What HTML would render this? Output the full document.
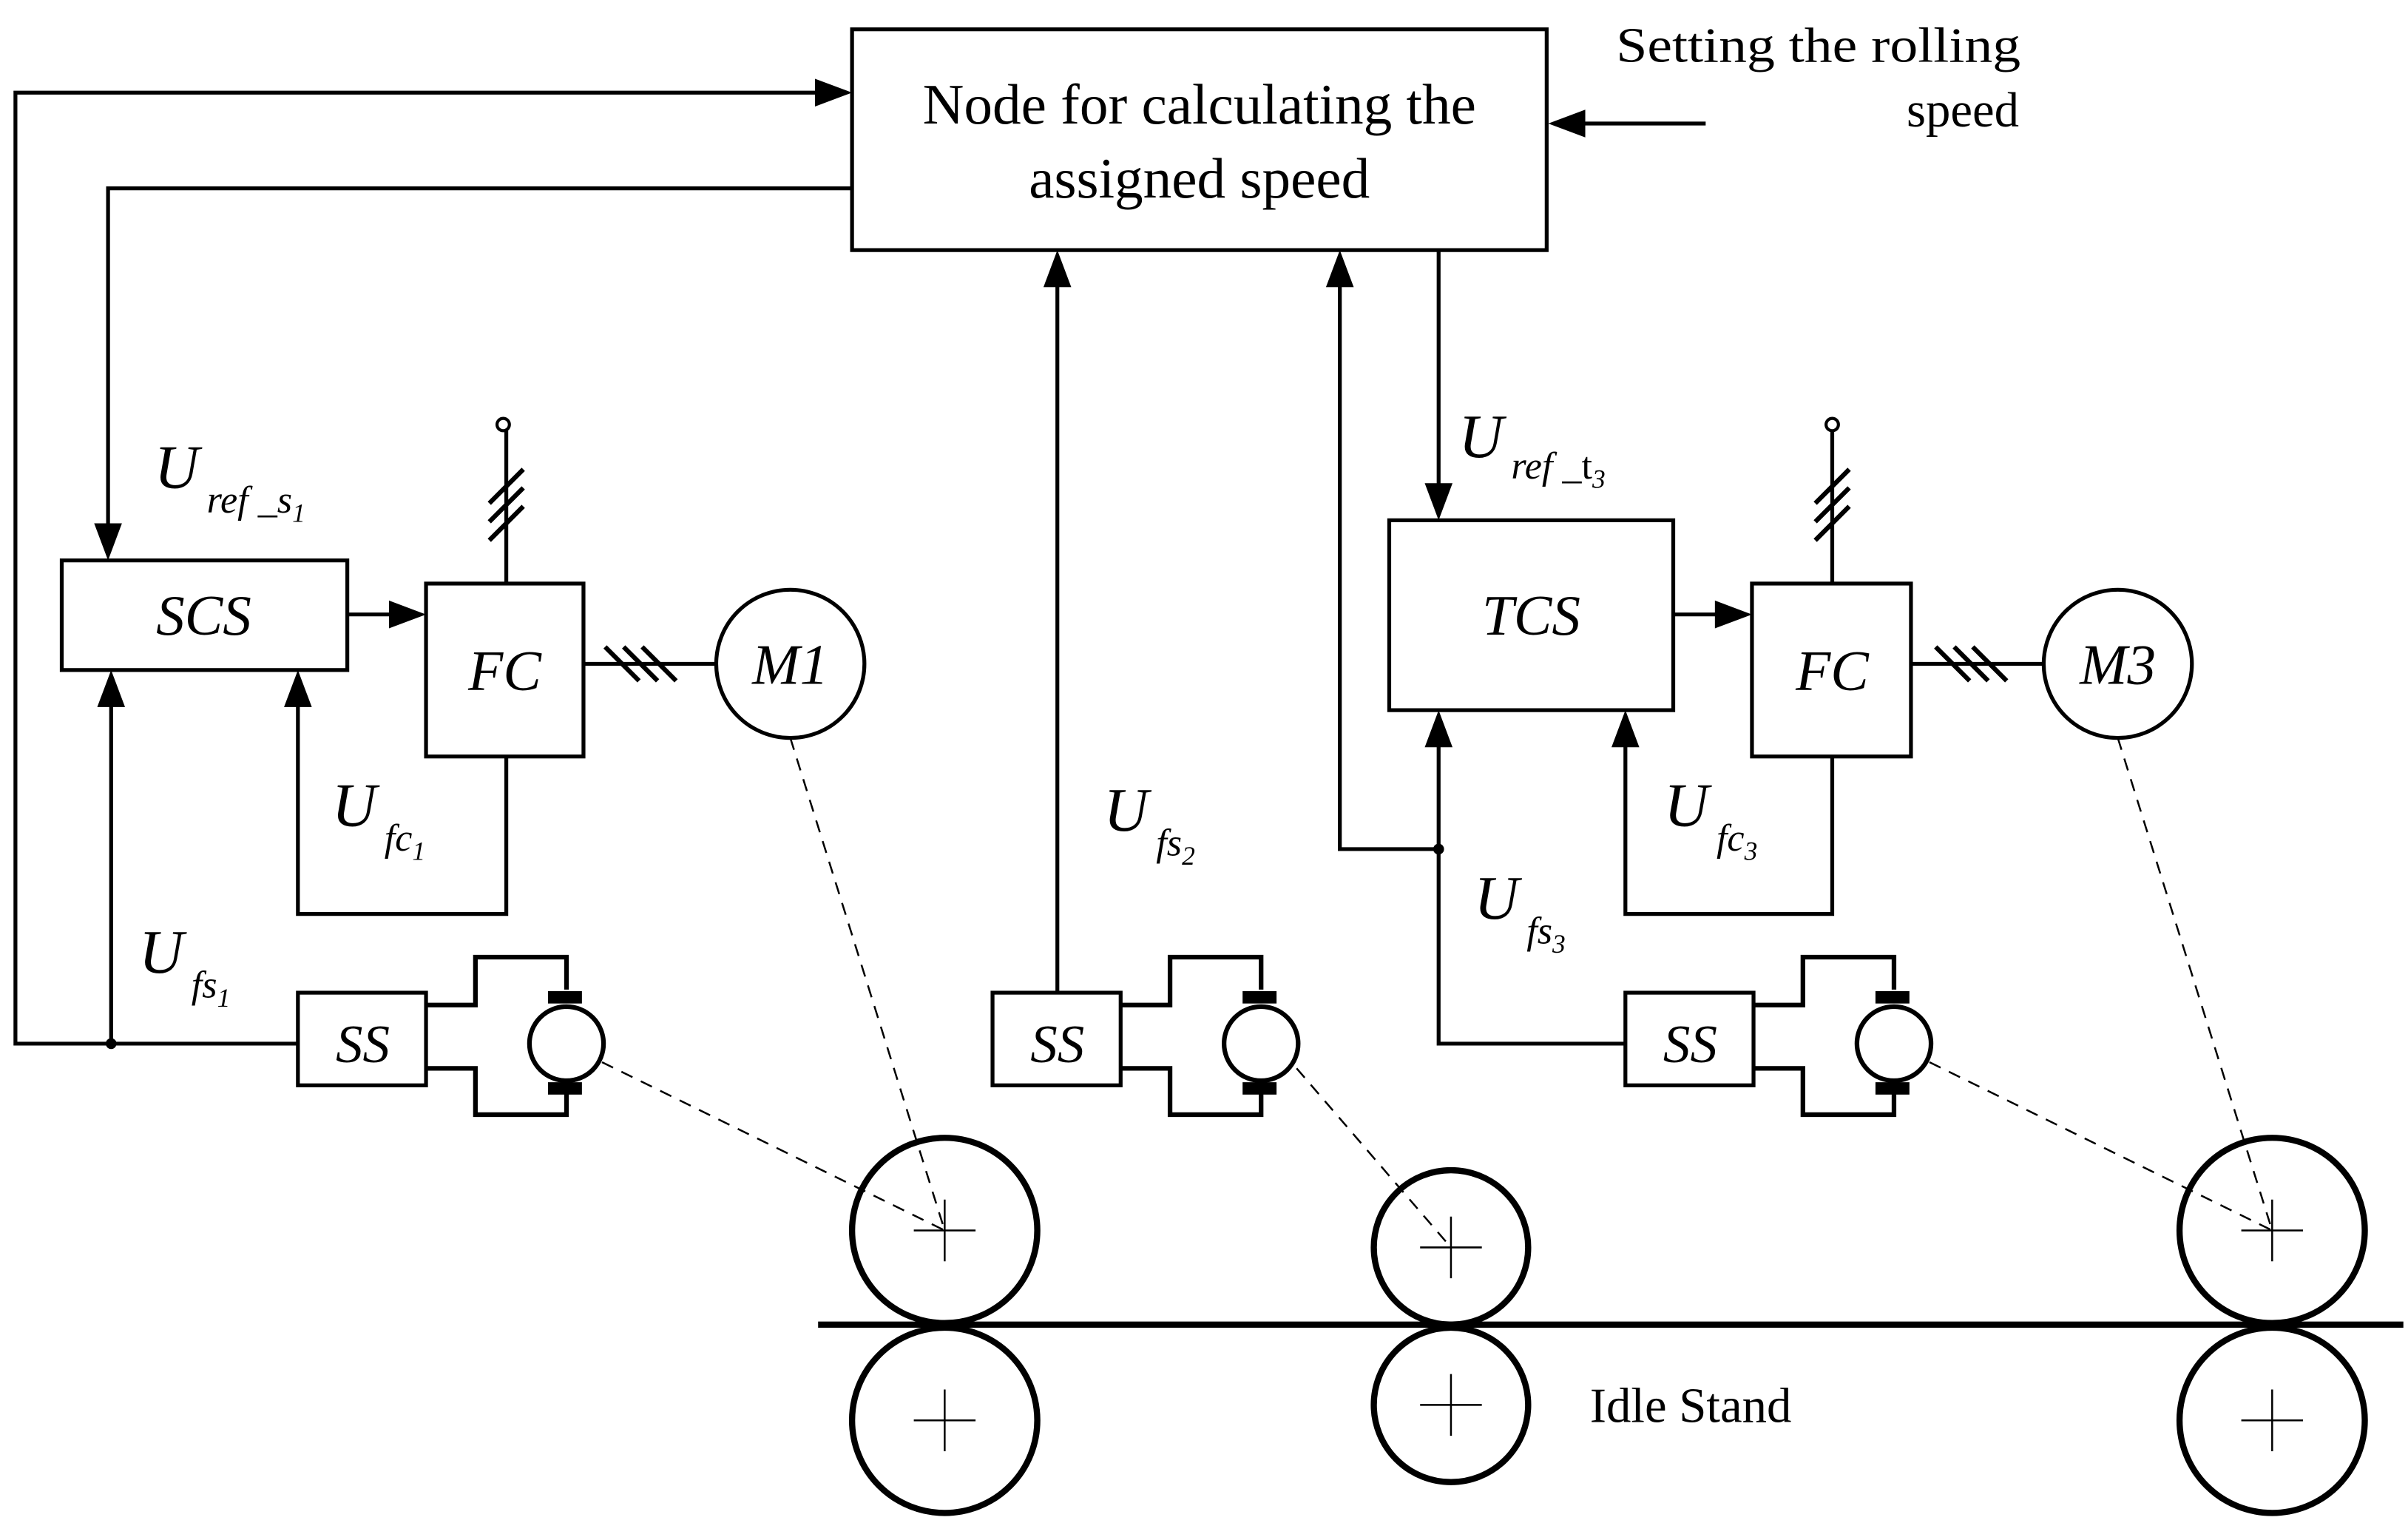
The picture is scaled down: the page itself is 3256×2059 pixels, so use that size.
<!DOCTYPE html>
<html><head><meta charset="utf-8"><style>
html,body{margin:0;padding:0;background:#fff;}
svg{display:block;}
text{font-family:"Liberation Serif",serif;fill:#000;}
.i{font-style:italic;}
</style></head><body>
<svg width="3256" height="2059" viewBox="0 0 1560 986.5" preserveAspectRatio="none" xmlns="http://www.w3.org/2000/svg">
<defs>
<g id="mot">
<path d="M0,-25 H32 V-56 H91 V-35 M0,16 H32 V46 H91 V26" fill="none" stroke="#000" stroke-width="3"/>
<rect x="79" y="-34" width="22" height="8" fill="#000"/>
<rect x="79" y="25" width="22" height="8" fill="#000"/>
<circle cx="91" cy="0" r="24" fill="#fff" stroke="#000" stroke-width="3"/>
</g>
<g id="hash"><path d="M-11,4 L11,-18 M-11,16 L11,-6 M-11,28 L11,6" stroke="#000" stroke-width="3"/></g>
</defs>
<g fill="none" stroke="#000" stroke-width="2.5">
<rect x="552" y="19" width="450" height="143"/>
<polyline points="193,676 10,676 10,60 540,60"/>
<polyline points="552,122 70,122 70,350"/>
<polyline points="72,676 72,446"/>
<rect x="40" y="363" width="185" height="71"/>
<line x1="225" y1="398" x2="264" y2="398"/>
<rect x="276" y="378" width="102" height="112"/>
<polyline points="328,378 328,279"/>
<line x1="378" y1="430" x2="464" y2="430"/>
<circle cx="512" cy="430" r="48"/>
<polyline points="328,490 328,592 193,592 193,446"/>
<rect x="193" y="643" width="83" height="60"/>
<polyline points="685,643 685,174"/>
<rect x="643" y="643" width="83" height="60"/>
<polyline points="932,162 932,323"/>
<rect x="900" y="337" width="184" height="123"/>
<line x1="1084" y1="398" x2="1123" y2="398"/>
<rect x="1135" y="378" width="103" height="112"/>
<polyline points="1187,378 1187,279"/>
<line x1="1238" y1="430" x2="1324" y2="430"/>
<circle cx="1372" cy="430" r="48"/>
<polyline points="1187,490 1187,592 1053,592 1053,472"/>
<polyline points="868,174 868,550 932,550"/>
<polyline points="1053,676 932,676 932,472"/>
<rect x="1053" y="643" width="83" height="60"/>
<line x1="1105" y1="80" x2="1015" y2="80"/>
</g>
<g fill="#000">
<polygon points="552,60 528,51 528,69"/>
<polygon points="1003,80 1027,71 1027,89"/>
<polygon points="70,363 61,339 79,339"/>
<polygon points="72,434 63,458 81,458"/>
<polygon points="276,398 252,389 252,407"/>
<polygon points="193,434 184,458 202,458"/>
<polygon points="685,162 676,186 694,186"/>
<polygon points="868,162 859,186 877,186"/>
<polygon points="932,337 923,313 941,313"/>
<polygon points="1135,398 1111,389 1111,407"/>
<polygon points="932,460 923,484 941,484"/>
<polygon points="1053,460 1044,484 1062,484"/>
<circle cx="72" cy="676" r="3.5"/>
<circle cx="932" cy="550" r="3.5"/>
</g>
<circle cx="326" cy="275" r="4" fill="#fff" stroke="#000" stroke-width="2"/>
<circle cx="1187" cy="275" r="4" fill="#fff" stroke="#000" stroke-width="2"/>
<use href="#hash" x="328" y="322"/>
<use href="#hash" x="1187" y="322"/>
<g transform="translate(420,430) rotate(90)"><use href="#hash"/></g>
<g transform="translate(1282,430) rotate(90)"><use href="#hash"/></g>
<use href="#mot" x="276" y="676"/>
<use href="#mot" x="726" y="676"/>
<use href="#mot" x="1136" y="676"/>
<g stroke="#000" stroke-width="1.2" stroke-dasharray="8,6" fill="none">
<line x1="390" y1="688" x2="612" y2="797"/>
<line x1="512" y1="478" x2="612" y2="797"/>
<line x1="840" y1="692" x2="940" y2="808"/>
<line x1="1250" y1="688" x2="1472" y2="797"/>
<line x1="1372" y1="478" x2="1472" y2="797"/>
</g>
<g fill="none" stroke="#000" stroke-width="4">
<circle cx="612" cy="797" r="60"/><circle cx="612" cy="920" r="60"/>
<circle cx="940" cy="808" r="50"/><circle cx="940" cy="910" r="50"/>
<circle cx="1472" cy="797" r="60"/><circle cx="1472" cy="920" r="60"/>
<line x1="530" y1="858" x2="1557" y2="858"/>
</g>
<g stroke="#000" stroke-width="1.2">
<path d="M592,797h40M612,777v40M592,920h40M612,900v40M920,808h40M940,788v40M920,910h40M940,890v40M1452,797h40M1472,777v40M1452,920h40M1472,900v40"/>
</g>
<text x="777" y="80" font-size="37" text-anchor="middle">Node for calculating the</text>
<text x="777" y="128" font-size="37" text-anchor="middle">assigned speed</text>
<text x="1047" y="40" font-size="32" textLength="262" lengthAdjust="spacingAndGlyphs">Setting the rolling</text>
<text x="1308" y="82" font-size="32" text-anchor="end">speed</text>
<text x="1030" y="921" font-size="32">Idle Stand</text>
<g class="i">
<text x="132" y="411" font-size="37" text-anchor="middle">SCS</text>
<text x="327" y="447" font-size="37" text-anchor="middle">FC</text>
<text x="512" y="443" font-size="37" text-anchor="middle">M1</text>
<text x="992" y="411" font-size="37" text-anchor="middle">TCS</text>
<text x="1187" y="447" font-size="37" text-anchor="middle">FC</text>
<text x="1372" y="443" font-size="37" text-anchor="middle">M3</text>
<text x="235" y="688" font-size="35" text-anchor="middle">SS</text>
<text x="685" y="688" font-size="35" text-anchor="middle">SS</text>
<text x="1095" y="688" font-size="35" text-anchor="middle">SS</text>
<text x="100" y="316" font-size="40">U</text><text x="134" y="332" font-size="25">ref _s<tspan font-size="17" dy="6">1</tspan></text>
<text x="945" y="296" font-size="40">U</text><text x="979" y="310" font-size="25">ref _<tspan font-style="normal">t</tspan><tspan font-size="17" dy="6">3</tspan></text>
<text x="215" y="535" font-size="40">U</text><text x="249" y="551" font-size="25">fc<tspan font-size="17" dy="6">1</tspan></text>
<text x="90" y="630" font-size="40">U</text><text x="124" y="646" font-size="25">fs<tspan font-size="17" dy="6">1</tspan></text>
<text x="715" y="538" font-size="40">U</text><text x="749" y="554" font-size="25">fs<tspan font-size="17" dy="6">2</tspan></text>
<text x="1078" y="535" font-size="40">U</text><text x="1112" y="551" font-size="25">fc<tspan font-size="17" dy="6">3</tspan></text>
<text x="955" y="595" font-size="40">U</text><text x="989" y="611" font-size="25">fs<tspan font-size="17" dy="6">3</tspan></text>
</g>
</svg>
</body></html>
